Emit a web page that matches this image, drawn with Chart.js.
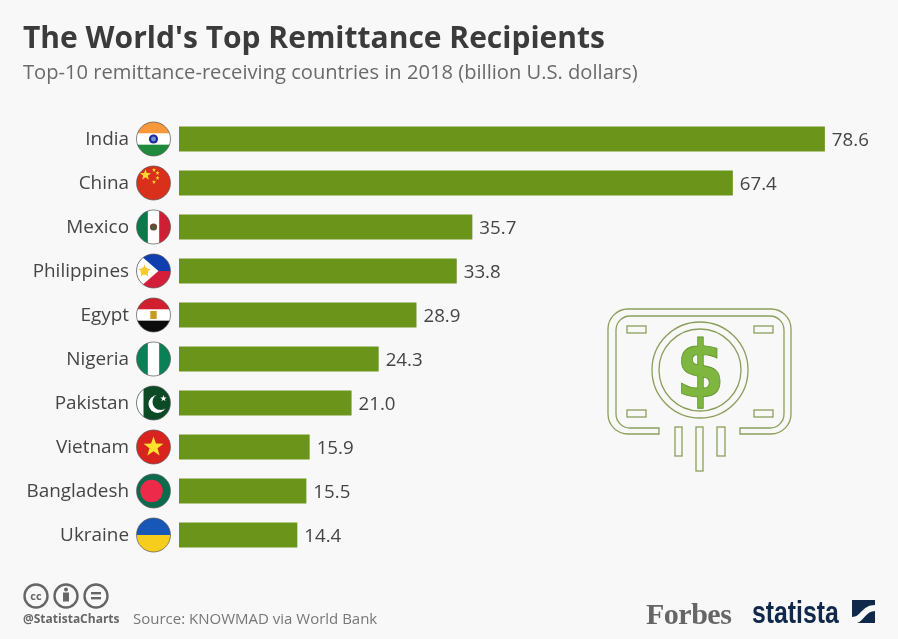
<!DOCTYPE html>
<html>
<head>
<meta charset="utf-8">
<title>The World's Top Remittance Recipients</title>
<script src="https://cdn.jsdelivr.net/npm/chart.js@4"></script>
<style>
  html, body { margin: 0; padding: 0; background: #f8f8f8; }
  #page { position: relative; width: 898px; height: 639px; overflow: hidden; font-family: "Open Sans", sans-serif; }
  #page canvas { position: absolute; left: 0; top: 0; }
  .txt { position: absolute; white-space: nowrap; line-height: 1; }
  #title { left: 23px; top: 22px; font-size: 30px; font-weight: 700; color: #3b3b3b; }
  #subtitle { left: 23px; top: 61px; font-size: 20.15px; color: #6a6a6a; }
  #handle { left: 23px; top: 613px; font-size: 12px; font-weight: 700; color: #666; }
  #source { left: 133px; top: 611px; font-size: 15px; color: #777; }
  #forbes { left: 646px; top: 599px; font-family: "Liberation Serif", serif; font-size: 30px; font-weight: 700; color: #666; letter-spacing: -0.5px; }
  #statista { left: 752px; top: 597px; font-family: "Liberation Sans", sans-serif; font-size: 31px; font-weight: 700; color: #10294a; transform: scaleX(0.8); transform-origin: left center; }
  svg { position: absolute; left: 0; top: 0; }
</style>
</head>
<body>
<div id="page">
  <canvas id="chart" width="898" height="639"></canvas>
  <svg width="898" height="639" viewBox="0 0 898 639">
    <!-- banknote icon -->
    <g fill="none" stroke="#8a9e5a" stroke-width="1.3">
      <path d="M659 434H628a20 20 0 0 1-20-20V329a20 20 0 0 1 20-20H771a20 20 0 0 1 20 20V414a20 20 0 0 1-20 20H740V428H770a14 14 0 0 0 14-14V330a14 14 0 0 0-14-14H630a14 14 0 0 0-14 14V414a14 14 0 0 0 14 14H659Z"/>
      <circle cx="700" cy="370" r="48"/>
      <circle cx="700" cy="370" r="41"/>
      <rect x="627" y="326" width="19" height="7"/>
      <rect x="754" y="326" width="19" height="7"/>
      <rect x="627" y="410" width="19" height="7"/>
      <rect x="754" y="410" width="19" height="7"/>
      <rect x="675" y="427" width="7" height="29"/>
      <rect x="696" y="427" width="7" height="44"/>
      <rect x="717" y="427" width="8" height="29"/>
    </g>
    <text transform="translate(700.5 397) scale(0.9 1)" text-anchor="middle" font-family="DejaVu Sans" font-weight="700" font-size="78" fill="#7fb63f" stroke="#5f9428" stroke-width="0.8">$</text>
    <!-- cc badges -->
    <g fill="none" stroke="#666" stroke-width="2.4">
      <circle cx="36" cy="596" r="11.5"/>
      <circle cx="66" cy="596" r="11.5"/>
      <circle cx="96" cy="596" r="11.5"/>
    </g>
    <text x="36" y="600" text-anchor="middle" font-family="Open Sans" font-weight="700" font-size="11" fill="#666">cc</text>
    <circle cx="66" cy="589.5" r="2" fill="#666"/>
    <rect x="63" y="592.5" width="6" height="9" fill="#666"/>
    <rect x="91" y="592" width="10" height="2.4" fill="#666"/>
    <rect x="91" y="597" width="10" height="2.4" fill="#666"/>
    <!-- statista mark -->
    <rect x="852" y="600" width="23" height="23" fill="#10294a"/>
    <path d="M852 617C861 617 862 605 875 605V611C866 611 864 621 857 623H852Z" fill="#f8f8f8"/>
  </svg>
  <div class="txt" id="title">The World's Top Remittance Recipients</div>
  <div class="txt" id="subtitle">Top-10 remittance-receiving countries in 2018 (billion U.S. dollars)</div>
  <div class="txt" id="handle">@StatistaCharts</div>
  <div class="txt" id="source">Source: KNOWMAD via World Bank</div>
  <div class="txt" id="forbes">Forbes</div>
  <div class="txt" id="statista">statista</div>
</div>

<script>
// ---------- Data ----------
const countries = ['India', 'China', 'Mexico', 'Philippines', 'Egypt', 'Nigeria', 'Pakistan', 'Vietnam', 'Bangladesh', 'Ukraine'];
const remittances = [78.6, 67.4, 35.7, 33.8, 28.9, 24.3, 21.0, 15.9, 15.5, 14.4];
const axisMax = 87.5;

const BAR_COLOR = '#6b941b';
const LABEL_COLOR = '#454545';

// ---------- Flag helpers ----------
function star(ctx, x, y, r, color, rot) {
    ctx.fillStyle = color;
    ctx.beginPath();
    for (let i = 0; i < 10; i++) {
        const a = -Math.PI / 2 + (rot || 0) + i * Math.PI / 5;
        const d = i % 2 ? r * 0.4 : r;
        ctx.lineTo(x + Math.cos(a) * d, y + Math.sin(a) * d);
    }
    ctx.closePath();
    ctx.fill();
}

function hBands(ctx, r, colors) {
    const h = 2 * r / colors.length;
    colors.forEach((c, i) => {
        ctx.fillStyle = c;
        ctx.fillRect(-r, -r + i * h, 2 * r, h + 0.5);
    });
}

function vBands(ctx, r, colors) {
    const w = 2 * r / colors.length;
    colors.forEach((c, i) => {
        ctx.fillStyle = c;
        ctx.fillRect(-r + i * w, -r, w + 0.5, 2 * r);
    });
}

function dot(ctx, x, y, r, color) {
    ctx.fillStyle = color;
    ctx.beginPath();
    ctx.arc(x, y, r, 0, Math.PI * 2);
    ctx.fill();
}

// drawn around (0,0) inside a clipped circle of radius r
const FLAGS = {
    India(ctx, r) {
        hBands(ctx, r, ['#f7983a', '#ffffff', '#1f8a3b']);
        dot(ctx, 0, 0, 4.6, '#1c2a9c');
        dot(ctx, 0, 0, 2.4, '#6f8fd0');
    },
    China(ctx, r) {
        hBands(ctx, r, ['#d9301c']);
        star(ctx, -8, -8, 5.8, '#ffd92e');
        star(ctx, 0.5, -13, 2.2, '#ffd92e');
        star(ctx, 4, -10, 2.2, '#ffd92e');
        star(ctx, 4, -5, 2.2, '#ffd92e');
        star(ctx, 0.5, -1, 2.2, '#ffd92e');
    },
    Mexico(ctx, r) {
        vBands(ctx, r, ['#0b7a4b', '#ffffff', '#cf1f35']);
        dot(ctx, 0, 0, 3.6, '#6b4a35');
        dot(ctx, 0, 1, 1.6, '#3d6b3a');
    },
    Philippines(ctx, r) {
        hBands(ctx, r, ['#0f3fae', '#d31f3a']);
        ctx.fillStyle = '#ffffff';
        ctx.beginPath();
        ctx.moveTo(-r, -r - 2);
        ctx.lineTo(5, 0);
        ctx.lineTo(-r, r + 2);
        ctx.closePath();
        ctx.fill();
        star(ctx, -9, 0, 6.8, '#f7c82f');
        dot(ctx, -9, 0, 3.8, '#f7c82f');
    },
    Egypt(ctx, r) {
        hBands(ctx, r, ['#d0202f', '#ffffff', '#0c0c0c']);
        ctx.fillStyle = '#c79a22';
        ctx.fillRect(-3.2, -4, 6.4, 8);
    },
    Nigeria(ctx, r) {
        vBands(ctx, r, ['#0a8057', '#ffffff', '#0a8057']);
    },
    Pakistan(ctx, r) {
        hBands(ctx, r, ['#0b4a25']);
        ctx.fillStyle = '#ffffff';
        ctx.fillRect(-r, -r, 7, 2 * r);
        dot(ctx, 4, 1, 9, '#ffffff');
        dot(ctx, 7, -1, 8, '#0b4a25');
        star(ctx, 10, -4.5, 3.4, '#ffffff');
    },
    Vietnam(ctx, r) {
        hBands(ctx, r, ['#d8231f']);
        star(ctx, 0, 0, 10.5, '#ffe22e');
    },
    Bangladesh(ctx, r) {
        hBands(ctx, r, ['#0b6b4d']);
        dot(ctx, -2, 0, 11.2, '#ee2a4a');
    },
    Ukraine(ctx, r) {
        hBands(ctx, r, ['#1657b8', '#f7cd1d']);
    }
};

// ---------- Plugin: flags and value labels, placed from the scales ----------
const flagsAndValues = {
    id: 'flagsAndValues',
    afterDatasetsDraw(chart) {
        const { ctx, scales: { x, y } } = chart;
        ctx.save();
        countries.forEach((name, i) => {
            const cy = y.getPixelForValue(i);

            ctx.save();
            ctx.translate(x.getPixelForValue(0) - 25.5, cy);
            ctx.beginPath();
            ctx.arc(0, 0, 17, 0, Math.PI * 2);
            ctx.clip();
            FLAGS[name](ctx, 17);
            ctx.restore();

            ctx.save();
            ctx.strokeStyle = '#555555';
            ctx.lineWidth = 0.7;
            ctx.beginPath();
            ctx.arc(x.getPixelForValue(0) - 25.5, cy, 17, 0, Math.PI * 2);
            ctx.stroke();
            ctx.restore();

            ctx.fillStyle = LABEL_COLOR;
            ctx.font = '18.7px "Open Sans"';
            ctx.textAlign = 'left';
            ctx.textBaseline = 'middle';
            ctx.fillText(remittances[i].toFixed(1), x.getPixelForValue(remittances[i]) + 7, cy + 2);
        });
        ctx.restore();
    }
};

// ---------- Chart ----------
new Chart(document.getElementById('chart'), {
    type: 'bar',
    data: {
        labels: countries,
        datasets: [{
            data: remittances,
            backgroundColor: BAR_COLOR,
            borderWidth: 0,
            barPercentage: 0.57,
            categoryPercentage: 1
        }]
    },
    options: {
        indexAxis: 'y',
        responsive: false,
        animation: false,
        layout: { padding: { top: 117, bottom: 82, left: 0, right: 0 } },
        plugins: { legend: { display: false }, tooltip: { enabled: false } },
        scales: {
            x: { display: false, min: 0, max: axisMax },
            y: {
                afterFit(scale) { scale.width = 179; },
                grid: { display: false, drawBorder: false },
                border: { display: false },
                ticks: {
                    padding: 42,
                    labelOffset: 1,
                    color: LABEL_COLOR,
                    font: { family: '"Open Sans"', size: 18.9 }
                }
            }
        }
    },
    plugins: [flagsAndValues]
});
</script>
</body>
</html>
